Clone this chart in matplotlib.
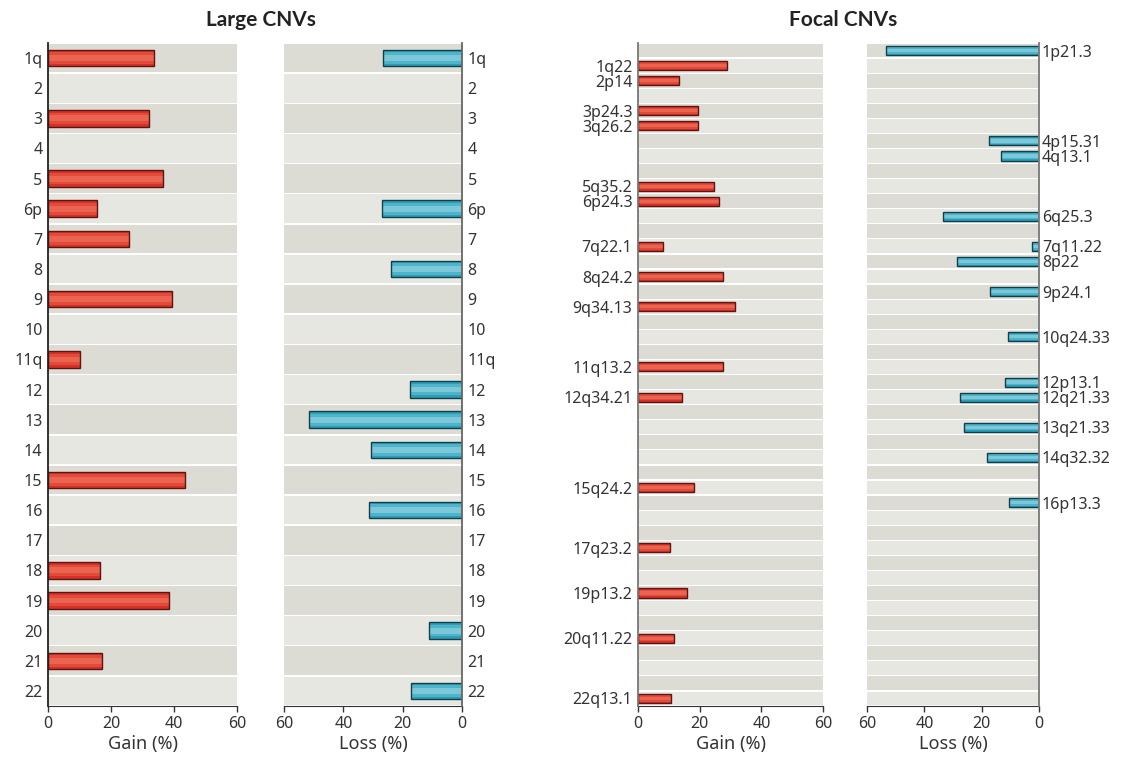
import numpy as np
import matplotlib
matplotlib.use("Agg")
import matplotlib.pyplot as plt

plt.rcParams["font.family"] = ["Noto Sans", "DejaVu Sans"]

# Large CNVs: one row per chromosome (arm)
large_labels = ["1q", "2", "3", "4", "5", "6p", "7", "8", "9", "10", "11q",
                "12", "13", "14", "15", "16", "17", "18", "19", "20", "21", "22"]
large_gain = [33.7, 0, 32.0, 0, 36.4, 15.4, 25.8, 0, 39.4, 0, 10.3,
              0, 0, 0, 43.4, 0, 0, 16.4, 38.4, 0, 17.0, 0]
large_loss = [26.7, 0, 0, 0, 0, 26.9, 0, 23.8, 0, 0, 0,
              17.5, 51.5, 30.6, 0, 31.4, 0, 0, 0, 11.1, 0, 17.2]

# Focal CNVs: one row per chromosome arm 1p..22q
arms = [f"{c}{a}" for c in range(1, 23) for a in ("p", "q")]
focal_gain_labels = ["1q22", "2p14", "3p24.3", "3q26.2", "5q35.2", "6p24.3",
                     "7q22.1", "8q24.2", "9q34.13", "11q13.2", "12q34.21",
                     "15q24.2", "17q23.2", "19p13.2", "20q11.22", "22q13.1"]
focal_gain_arms = ["1q", "2p", "3p", "3q", "5q", "6p", "7q", "8q", "9q", "11q",
                   "12q", "15q", "17q", "19p", "20q", "22q"]
focal_gain = [29.0, 13.3, 19.6, 19.6, 24.7, 26.3, 8.0, 27.6, 31.5, 27.6,
              14.3, 18.2, 10.4, 15.9, 11.7, 10.6]
focal_loss_labels = ["1p21.3", "4p15.31", "4q13.1", "6q25.3", "7q11.22", "8p22",
                     "9p24.1", "10q24.33", "12p13.1", "12q21.33", "13q21.33",
                     "14q32.32", "16p13.3"]
focal_loss_arms = ["1p", "4p", "4q", "6q", "7q", "8p", "9p", "10q", "12p", "12q",
                   "13q", "14q", "16p"]
focal_loss = [53.2, 17.6, 13.2, 33.6, 2.6, 28.5, 17.0, 10.7, 11.7, 27.5,
              26.0, 18.0, 10.3]

STRIPE_DARK = "#dcdcd4"
STRIPE_LIGHT = "#e7e7e2"
RED = ("#d83026", "#e24a3a", "#ea6450", "#5c1512")
BLUE = ("#2b9fb9", "#4fb3ca", "#7cc7d8", "#123f49")
TEXT = "#333333"

W, H = 1126, 760
fig = plt.figure(figsize=(W / 100, H / 100), dpi=100)


def px_axes(x0, x1, top=43, bottom=706):
    return fig.add_axes([x0 / W, 1 - bottom / H, (x1 - x0) / W, (bottom - top) / H])


def stripes(ax, n, gap):
    for i in range(n):
        ax.axhspan(i - 0.5 + gap, i + 0.5 - gap,
                   color=STRIPE_DARK if i % 2 == 0 else STRIPE_LIGHT,
                   lw=0, zorder=0)


def bars(ax, rows, vals, height, colors):
    rows = np.asarray(rows)
    vals = np.asarray(vals, dtype=float)
    keep = vals > 0
    rows, vals = rows[keep], vals[keep]
    # fake a vertical gradient with stacked bars
    ax.barh(rows, vals, height=height, color=colors[0], lw=0, zorder=2)
    ax.barh(rows, vals, height=height * 0.7, color=colors[1], lw=0, zorder=3)
    ax.barh(rows, vals, height=height * 0.35, color=colors[2], lw=0, zorder=4)
    ax.barh(rows, vals, height=height, color="none",
            edgecolor=colors[3], linewidth=1.0, zorder=5)


def style(ax, n, side, xlabel, spine_color, fs):
    ax.set_ylim(n - 0.5, -0.5)
    ax.set_xticks([0, 20, 40, 60])
    ax.tick_params(axis="x", length=4, width=1, colors=TEXT, labelsize=11.5, pad=3)
    ax.tick_params(axis="y", length=0, colors=TEXT, labelsize=fs, pad=4)
    for s in ax.spines.values():
        s.set_visible(False)
    ax.spines["bottom"].set_visible(True)
    ax.spines["bottom"].set_color(TEXT)
    ax.spines[side].set_visible(True)
    ax.spines[side].set_color(spine_color)
    ax.spines[side].set_linewidth(1.3)
    ax.spines[side].set_zorder(6)
    if side == "right":
        ax.yaxis.tick_right()
        ax.set_xlim(60, 0)
    else:
        ax.set_xlim(0, 60)
    ax.set_xlabel(xlabel, fontsize=13, color=TEXT, labelpad=2)


n_large = len(large_labels)
rows_large = np.arange(n_large)

ax1 = px_axes(48, 237)
stripes(ax1, n_large, 0.025)
bars(ax1, rows_large, large_gain, 0.55, RED)
style(ax1, n_large, "left", "Gain (%)", "#222222", 11.5)
ax1.set_yticks(rows_large, large_labels)

ax2 = px_axes(284, 462)
stripes(ax2, n_large, 0.025)
bars(ax2, rows_large, large_loss, 0.55, BLUE)
style(ax2, n_large, "right", "Loss (%)", "#666666", 11.5)
ax2.set_yticks(rows_large, large_labels)

n_focal = len(arms)
gain_rows = [arms.index(a) for a in focal_gain_arms]
loss_rows = [arms.index(a) for a in focal_loss_arms]

ax3 = px_axes(638, 823)
stripes(ax3, n_focal, 0.04)
bars(ax3, gain_rows, focal_gain, 0.6, RED)
style(ax3, n_focal, "left", "Gain (%)", "#777777", 11.5)
ax3.set_yticks(gain_rows, focal_gain_labels)

ax4 = px_axes(867, 1039)
stripes(ax4, n_focal, 0.04)
bars(ax4, loss_rows, focal_loss, 0.6, BLUE)
style(ax4, n_focal, "right", "Loss (%)", "#777777", 11.5)
ax4.set_yticks(loss_rows, focal_loss_labels)
ax4.tick_params(axis="y", pad=2)

for x, title in [(261, "Large CNVs"), (843, "Focal CNVs")]:
    fig.text(x / W, 1 - 20 / H, title, ha="center", va="center",
             fontsize=15, fontweight="bold", color="#222222",
             family=["Lato", "DejaVu Sans"])

fig.savefig("out.png", dpi=100, facecolor="white")
